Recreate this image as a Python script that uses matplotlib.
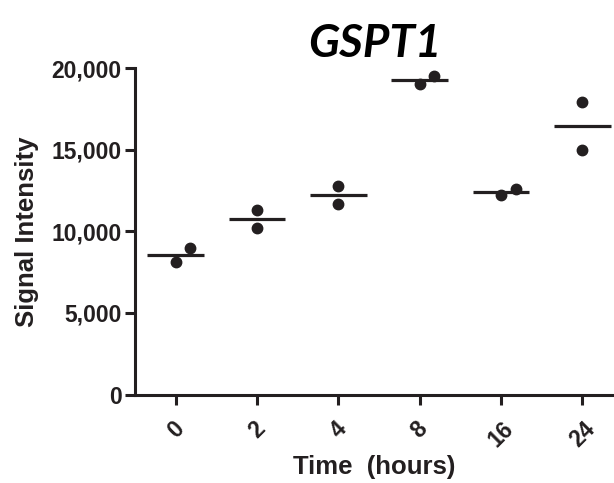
import matplotlib
matplotlib.use('Agg')
import matplotlib.pyplot as plt
import numpy as np

# data
times = ['0', '2', '4', '8', '16', '24']
rep_a = [8110, 10215, 11645, 19050, 12220, 14960]   # lower replicate
rep_b = [8970, 11300, 12750, 19500, 12590, 17930]   # upper replicate
means = [8560, 10750, 12200, 19280, 12410, 16440]

# horizontal spread of the upper point where the two overlap (category units)
spread_b = [0.18, 0.0, 0.0, 0.18, 0.18, 0.0]

ink = '#231f20'
plt.rcParams['font.family'] = ['Liberation Sans', 'DejaVu Sans']

fig = plt.figure(figsize=(6.14, 4.83), dpi=100)
ax = fig.add_axes([0.2199, 0.1832, 0.7801, 0.6760])

x = np.arange(len(times))
ax.plot(x, rep_a, 'o', color=ink, markersize=7.5, clip_on=False, zorder=3)
ax.plot(x + np.array(spread_b), rep_b, 'o', color=ink, markersize=7.5, clip_on=False, zorder=3)
ax.hlines(means, x - 0.35, x + 0.35, color=ink, linewidth=2.3, zorder=4)

ax.set_xlim(-0.5, 5.39)
ax.set_ylim(0, 20000)
ax.set_yticks([0, 5000, 10000, 15000, 20000])
ax.set_yticklabels(['0', '5,000', '10,000', '15,000', '20,000'])
ax.set_xticks(x)
ax.set_xticklabels(times, rotation=45, ha='center')

for side in ['top', 'right']:
    ax.spines[side].set_visible(False)
for side in ['left', 'bottom']:
    ax.spines[side].set_linewidth(2.2)
    ax.spines[side].set_color(ink)
ax.tick_params(axis='both', width=2.2, length=7.5, color=ink, labelcolor=ink, labelsize=16.5)
ax.tick_params(axis='y', pad=2)
ax.tick_params(axis='x', pad=9)
for lbl in ax.get_xticklabels() + ax.get_yticklabels():
    lbl.set_fontweight('bold')

ax.set_xlabel('Time  (hours)', fontsize=18.5, fontweight='bold', color=ink, labelpad=2)
ax.set_ylabel('Signal Intensity', fontsize=18.5, fontweight='bold', color=ink, labelpad=9)
ax.set_title('GSPT1', fontsize=33, fontweight='bold', fontstyle='italic',
             family=['Lato', 'DejaVu Sans'], color='black', pad=8)

fig.savefig('out.png', dpi=100)
